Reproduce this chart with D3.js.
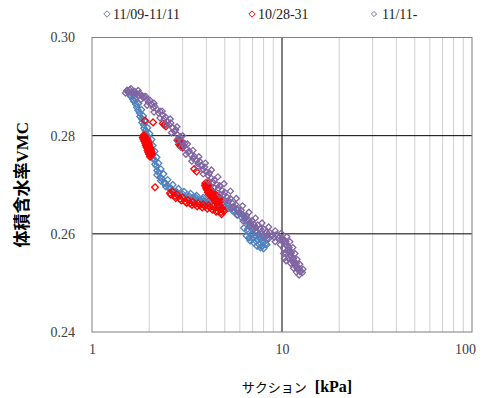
<!DOCTYPE html>
<html><head><meta charset="utf-8">
<script src="https://cdn.jsdelivr.net/npm/d3@7"></script>
<style>body{margin:0;background:#fff}</style>
</head><body><svg id="c" width="487" height="398"></svg>
<script>
const seriesNames = ["11/09-11/11", "10/28-31", "11/11-"];
const seriesColors = ["#4f81bd", "#ff0000", "#8064a2"];
const xTicks = [1, 10, 100];
const yTicks = [0.24, 0.26, 0.28, 0.30];
const xTitleKana = "サクション";
const xTitleUnit = "[kPa]";
const yTitleKanji = "体積含水率";
const yTitleLatin = "VMC";

const blue = [
[1.53,0.2892],[1.56,0.2889],[1.585,0.2884],[1.62,0.2886],[1.643,0.2874],[1.68,0.2876],[1.704,0.2864],[1.76,0.2866],
[1.747,0.2852],[1.82,0.2853],[1.789,0.2839],[1.86,0.2840],[1.833,0.2827],[1.91,0.2828],[1.878,0.2815],[1.96,0.2816],
[1.924,0.2803],[2.01,0.2804],[1.971,0.2791],[2.06,0.2792],[1.995,0.2778],[2.09,0.2780],[2.044,0.2766],[2.14,0.2768],
[2.095,0.2754],[2.19,0.2756],[2.146,0.2742],[2.24,0.2744],[2.199,0.2729],[2.30,0.2732],[2.280,0.2715],[2.38,0.2722],
[2.393,0.2703],[2.50,0.2710],[2.544,0.2693],[2.66,0.2700],[2.734,0.2685],[2.85,0.2692],[2.94,0.2679],[3.05,0.2686],
[3.201,0.2675],[3.30,0.2682],[3.484,0.2671],[3.55,0.2678],[3.839,0.2666],[3.85,0.2674],[4.18,0.2664],[4.20,0.2671],
[4.549,0.2662],[4.55,0.2668],[4.892,0.2658],[4.90,0.2665],[5.197,0.2652],[5.20,0.2660],[5.523,0.2646],[5.50,0.2654],
[5.85,0.2639],[5.80,0.2648],[6.15,0.2633],[6.10,0.2641],[6.45,0.2626],[6.40,0.2634],[6.80,0.2618],[7.10,0.2610],
[7.35,0.2602],[7.60,0.2594],[7.85,0.2586],[8.00,0.2582],
[6.3,0.2612],[6.6,0.2605],[6.9,0.2598],[7.0,0.2590],[7.3,0.2585],[7.6,0.2578],[7.9,0.2575],[8.2,0.2580],
[8.3,0.2590],[6.8,0.2586],[7.2,0.2596],[7.8,0.2600],[8.1,0.2592],
[1.60,0.2880],[1.66,0.2870],[1.72,0.2858],[1.78,0.2846],[1.83,0.2834],[1.87,0.2822],[1.91,0.2810],[1.95,0.2798],
[2.00,0.2786],[2.04,0.2774],[2.08,0.2762],[2.13,0.2750],[2.18,0.2738],[2.24,0.2725],[2.32,0.2713],[2.44,0.2703],
[2.60,0.2693],[2.78,0.2686],[3.00,0.2681],[3.25,0.2677],[3.52,0.2674],[3.82,0.2670],[4.15,0.2667],[4.50,0.2665],
[4.85,0.2662],[5.20,0.2656],[5.60,0.2648],[5.95,0.2642],[6.30,0.2636],[6.65,0.2625],[6.95,0.2615],[7.25,0.2606],
[7.50,0.2598],[7.75,0.2590],
[2.20,0.2720],[2.30,0.2708],[2.45,0.2696],[2.62,0.2688],[2.85,0.2680],[3.10,0.2674],[3.40,0.2669],[3.70,0.2666],
[4.00,0.2663],[4.35,0.2661],[4.70,0.2659],
[6.5,0.2596],[6.7,0.2592],[7.1,0.2582],[7.4,0.2575],[7.7,0.2572],[8.0,0.2570],[7.5,0.2588],[7.0,0.2600],
[6.6,0.2610],[8.3,0.2578],[8.0,0.2596]
];

const red = [
[1.90,0.2831],[2.095,0.2827],
[2.36,0.2825],[2.40,0.2822],[2.43,0.2824],[2.45,0.2819],
[1.86,0.2800],[1.88,0.2796],[1.90,0.2792],[1.92,0.2788],[1.93,0.2784],[1.95,0.2780],[1.97,0.2776],[1.99,0.2772],
[2.01,0.2768],[2.03,0.2764],[2.05,0.2760],[1.94,0.2794],[1.98,0.2786],[2.00,0.2779],[2.04,0.2771],[2.07,0.2763],[2.02,0.2757],
[1.87,0.2792],[1.89,0.2788],[1.91,0.2784],[1.92,0.2780],[1.94,0.2776],[1.96,0.2770],[1.98,0.2766],[2.00,0.2762],
[1.95,0.2790],[1.99,0.2782],[2.03,0.2775],[2.06,0.2767],[1.85,0.2796],[1.89,0.2800],
[2.146,0.2695],
[2.85,0.2789],[2.88,0.2786],[2.92,0.2783],[2.95,0.2780],[2.98,0.2778],[3.00,0.2776],[2.90,0.2790],
[2.87,0.2782],[2.93,0.2778],[2.97,0.2783],[3.02,0.2780],[2.83,0.2792],
[3.45,0.2732],[3.55,0.2727],
[3.93,0.2699],[4.00,0.2697],[4.05,0.2694],[4.10,0.2691],[4.15,0.2688],[4.22,0.2685],[4.30,0.2682],[4.38,0.2679],
[4.45,0.2676],[4.55,0.2673],[4.65,0.2670],[4.75,0.2667],[4.00,0.2692],[4.10,0.2686],[4.20,0.2681],[4.30,0.2677],
[4.40,0.2673],[4.50,0.2669],[4.60,0.2665],[3.95,0.2703],[4.05,0.2700],
[3.97,0.2696],[4.03,0.2690],[4.08,0.2684],[4.13,0.2680],[4.18,0.2692],[4.25,0.2688],[4.33,0.2685],[4.35,0.2672],
[4.42,0.2668],[4.48,0.2680],[4.52,0.2664],[4.58,0.2677],[4.62,0.2672],[4.68,0.2666],[4.70,0.2674],[4.25,0.2676],
[4.15,0.2696],[4.08,0.2703],
[2.574,0.2683],[2.734,0.2677],[2.906,0.2671],[3.087,0.2666],[3.280,0.2662],[3.484,0.2660],[3.702,0.2658],[3.933,0.2656],
[4.180,0.2654],[4.442,0.2652],[4.719,0.2650],[4.892,0.2648],
[2.65,0.2686],[2.80,0.2680],[3.00,0.2674],[3.20,0.2669],[3.40,0.2665],[3.62,0.2662],[3.85,0.2660],[4.10,0.2658],
[4.35,0.2656],[4.60,0.2654],[4.85,0.2652],
[2.60,0.2680],[2.76,0.2673],[2.95,0.2668],[3.15,0.2663],[3.36,0.2659],[3.58,0.2656],[3.80,0.2654],[4.05,0.2651],
[4.30,0.2649],[4.55,0.2647],[4.78,0.2644],
[4.5,0.2645],[4.8,0.2640],[4.95,0.2646],[4.7,0.2655]
];

const purple = [
[1.53,0.2892],[1.58,0.2893],[1.62,0.2889],[1.68,0.2890],[1.72,0.2885],[1.78,0.2886],[1.83,0.2882],[1.88,0.2880],
[1.95,0.2873],[2.02,0.2872],[2.06,0.2864],[2.14,0.2860],[2.20,0.2853],[2.28,0.2850],[2.35,0.2842],[2.44,0.2838],
[2.50,0.2829],[2.60,0.2826],[2.66,0.2816],[2.76,0.2812],[2.82,0.2802],[2.92,0.2798],[2.98,0.2788],[3.08,0.2784],
[3.15,0.2772],[3.25,0.2769],[3.33,0.2760],[3.45,0.2758],[3.55,0.2750],[3.68,0.2748],[3.78,0.2738],[3.92,0.2736],
[4.00,0.2726],[4.15,0.2724],[4.25,0.2713],[4.40,0.2710],[4.55,0.2700],[4.70,0.2698],[4.85,0.2688],[5.00,0.2685],
[5.15,0.2674],[5.35,0.2672],[5.50,0.2662],[5.70,0.2660],[5.85,0.2650],[6.10,0.2648],[6.25,0.2638],[6.50,0.2637],
[6.70,0.2628],[6.95,0.2627],[7.15,0.2618],[7.45,0.2618],[7.70,0.2610],[8.00,0.2610],[8.30,0.2603],[8.60,0.2603],
[8.90,0.2597],[9.30,0.2598],[9.60,0.2592],[10.0,0.2592],[10.2,0.2586],[10.5,0.2584],[10.6,0.2576],[10.9,0.2572],
[10.9,0.2564],[11.2,0.2561],[11.2,0.2552],[11.5,0.2550],[11.5,0.2541],[11.9,0.2540],[11.9,0.2532],[12.3,0.2530],
[12.4,0.2523],[12.8,0.2521],
[1.55,0.2888],[1.65,0.2887],[1.75,0.2882],[1.86,0.2877],[1.98,0.2868],[2.10,0.2857],[2.24,0.2846],[2.40,0.2834],
[2.55,0.2822],[2.71,0.2809],[2.87,0.2795],[3.03,0.2780],[3.20,0.2766],[3.40,0.2754],[3.62,0.2743],[3.85,0.2731],
[4.08,0.2719],[4.33,0.2705],[4.62,0.2693],[4.92,0.2680],[5.25,0.2667],[5.60,0.2655],[5.98,0.2643],[6.38,0.2632],
[6.82,0.2622],[7.30,0.2613],[7.85,0.2606],[8.45,0.2599],[9.10,0.2593],[9.80,0.2588],[10.4,0.2580],[10.75,0.2568],
[11.05,0.2557],[11.35,0.2546],[11.7,0.2536],[12.1,0.2527],[12.6,0.2524],
[1.60,0.2896],[1.75,0.2892],[1.92,0.2880],[2.12,0.2866],[2.34,0.2850],[2.58,0.2834],[2.80,0.2818],[3.00,0.2800],
[3.18,0.2783],[3.40,0.2770],[3.65,0.2757],[3.95,0.2744],[4.25,0.2730],[4.60,0.2716],[4.95,0.2702],[5.35,0.2687],
[5.75,0.2672],[6.20,0.2657],[6.70,0.2644],[7.25,0.2632],[7.85,0.2622],[8.50,0.2614],[9.20,0.2606],[9.90,0.2601],
[10.6,0.2594],[11.0,0.2584],[11.4,0.2572],[11.7,0.2560],[12.0,0.2548],[12.4,0.2538],[12.9,0.2528],
[1.50,0.2887],[1.66,0.2882],[1.80,0.2873],[1.95,0.2862],[2.12,0.2848],[2.28,0.2836],[2.45,0.2822],[2.62,0.2806],
[2.80,0.2790],[2.95,0.2776],[3.12,0.2762],[3.35,0.2748],[3.60,0.2736],[3.85,0.2722],[4.10,0.2708],[4.40,0.2694],
[4.72,0.2680],[5.05,0.2667],[5.40,0.2652],[5.80,0.2638],[6.25,0.2626],[6.75,0.2616],[7.30,0.2605],[7.90,0.2596],
[8.50,0.2590],[9.20,0.2584],[9.80,0.2578],[10.2,0.2570],[10.5,0.2560],[10.8,0.2550],[11.1,0.2540],[11.5,0.2530],
[11.9,0.2522],[12.3,0.2516],
[10.2,0.2560],[10.3,0.2550],[10.5,0.2545]
];

const seriesData = [blue, red, purple];

const svg = d3.select("#c");
const x = d3.scaleLog().domain([1, 100]).range([92, 472]);
const y = d3.scaleLinear().domain([0.24, 0.30]).range([332, 37.5]);

const serif = "'Liberation Serif', 'Times New Roman', 'DejaVu Serif', serif";
const cjk = "'Noto Sans CJK JP', sans-serif";

// minor vertical gridlines
const minor = x.ticks().filter(d => !xTicks.includes(d));
svg.append("g").selectAll("line").data(minor).join("line")
  .attr("x1", d => x(d)).attr("x2", d => x(d))
  .attr("y1", y(0.30)).attr("y2", y(0.24))
  .attr("stroke", "#d0d0d0").attr("stroke-width", 1);

// major gridlines
svg.append("g").selectAll("line").data(xTicks.slice(1, -1)).join("line")
  .attr("x1", d => x(d)).attr("x2", d => x(d))
  .attr("y1", y(0.30)).attr("y2", y(0.24))
  .attr("stroke", "#000").attr("stroke-width", 1);
svg.append("g").selectAll("line").data(yTicks.slice(1, -1)).join("line")
  .attr("x1", x(1)).attr("x2", x(100))
  .attr("y1", d => y(d)).attr("y2", d => y(d))
  .attr("stroke", "#000").attr("stroke-width", 1);

// frame
svg.append("rect")
  .attr("x", x(1)).attr("y", y(0.30))
  .attr("width", x(100) - x(1)).attr("height", y(0.24) - y(0.30))
  .attr("fill", "none").attr("stroke", "#7f7f7f").attr("stroke-width", 1);

// points
const diamond = r => `M0,${-r}L${r},0L0,${r}L${-r},0Z`;
const sizes = [3.2, 3.4, 3.0];
seriesData.forEach((data, i) => {
  svg.append("g").selectAll("path").data(data).join("path")
    .attr("transform", d => `translate(${x(d[0])},${y(d[1])})`)
    .attr("d", diamond(sizes[i]))
    .attr("fill", "none")
    .attr("stroke", seriesColors[i])
    .attr("stroke-width", 1.3);
});

// axes labels
const yAxis = svg.append("g").attr("transform", `translate(${x(1)},0)`)
  .call(d3.axisLeft(y).tickValues(yTicks).tickFormat(d3.format(".2f")).tickSize(0).tickPadding(17));
yAxis.select(".domain").remove();
yAxis.attr("font-family", null);
yAxis.selectAll("text").style("font-family", serif).style("font-size", "14px").attr("fill", "#404040");

const xAxis = svg.append("g").attr("transform", `translate(0,${y(0.24)})`)
  .call(d3.axisBottom(x).tickValues(xTicks).tickFormat(d3.format("d")).tickSize(0).tickPadding(12));
xAxis.select(".domain").remove();
xAxis.attr("font-family", null);
xAxis.selectAll("text").style("font-family", serif).style("font-size", "14px").attr("fill", "#404040");
xAxis.selectAll(".tick").filter(d => d === 100).select("text").attr("dx", -7);

// axis titles
const yt = svg.append("text")
  .attr("transform", `translate(28,${(y(0.30) + y(0.24)) / 2}) rotate(-90)`)
  .attr("text-anchor", "middle").style("font-weight", "bold").style("font-size", "17px").attr("fill", "#000");
yt.append("tspan").style("font-family", cjk).text(yTitleKanji);
yt.append("tspan").style("font-family", serif).text(yTitleLatin);

const xt = svg.append("text")
  .attr("x", 297).attr("y", 392)
  .attr("text-anchor", "middle").attr("fill", "#000");
xt.append("tspan").style("font-family", cjk).style("font-size", "13px").text(xTitleKana);
xt.append("tspan").style("font-family", serif).style("font-size", "16px").style("font-weight", "bold").attr("dx", 8).text(xTitleUnit);

// legend
const legendX = [107, 252, 374];
const lg = svg.append("g").selectAll("g").data(seriesNames).join("g")
  .attr("transform", (d, i) => `translate(${legendX[i]},14)`);
lg.append("path").attr("d", (d, i) => diamond(i === 2 ? 2.6 : 3.2))
  .attr("fill", "none").attr("stroke", (d, i) => i === 0 ? "#6a7ea8" : seriesColors[i]).attr("stroke-width", 1);
lg.append("text").attr("x", (d, i) => i === 2 ? 8 : 6).attr("dy", "0.35em")
  .style("font-family", serif).style("font-size", "14px").attr("fill", "#222").text(d => d);
</script></body></html>
